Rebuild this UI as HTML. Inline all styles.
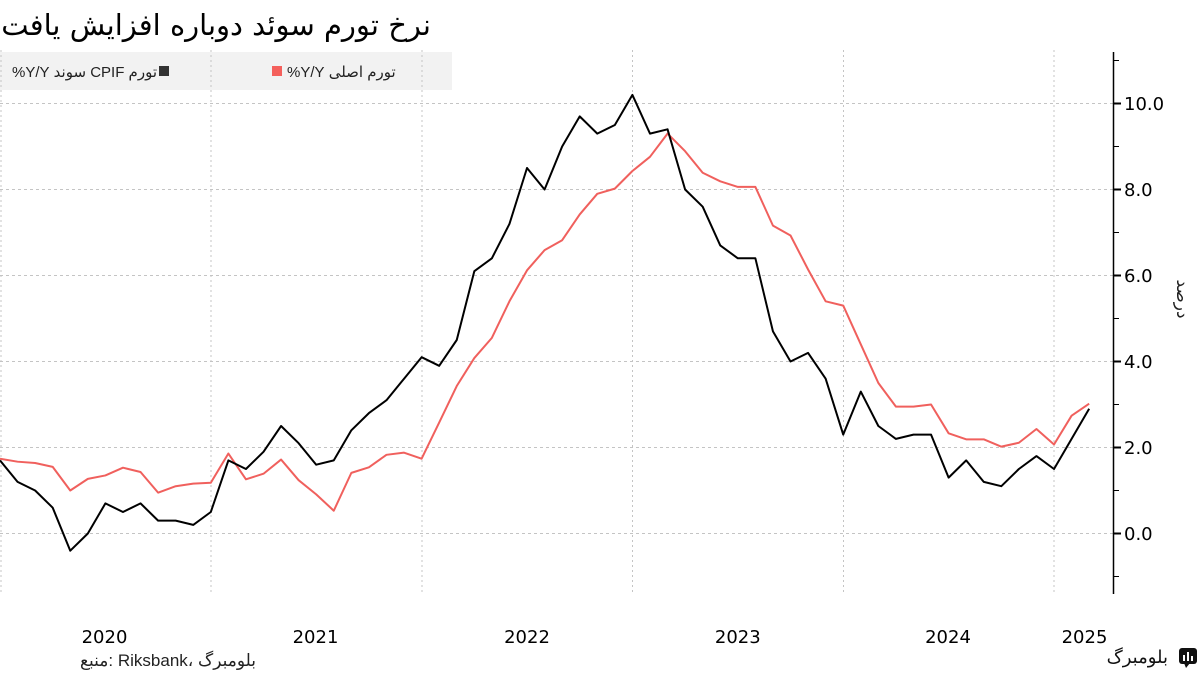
<!DOCTYPE html>
<html>
<head>
<meta charset="utf-8">
<style>
  html,body{margin:0;padding:0;background:#fff;}
  body{width:1200px;height:675px;position:relative;overflow:hidden;font-family:"Liberation Sans","DejaVu Sans",sans-serif;color:#000;}
  svg{position:absolute;left:0;top:0;}
  .t{position:absolute;white-space:nowrap;}
  .title{left:0;width:431px;top:9px;font-size:29px;line-height:33px;text-align:right;direction:rtl;font-family:"DejaVu Sans","Liberation Sans",sans-serif;color:#000;}
  .leg{font-size:15px;line-height:15px;top:65px;color:#222;}
  .sq{position:absolute;width:10px;height:10px;top:66px;}
  .src{left:80px;top:652px;font-size:17px;line-height:18px;color:#222;direction:ltr;}
  .brand{right:32px;top:647px;font-size:18px;line-height:20px;direction:rtl;color:#111;}
</style>
</head>
<body>
<svg width="1200" height="675" viewBox="0 0 1200 675" xmlns="http://www.w3.org/2000/svg">
  <rect x="0" y="52" width="452" height="38" fill="#f2f2f2"/>
  <g stroke="#c4c4c4" stroke-width="1" stroke-dasharray="3,3">
    <line x1="0" y1="533.5" x2="1113" y2="533.5"/>
    <line x1="0" y1="447.5" x2="1113" y2="447.5"/>
    <line x1="0" y1="361.5" x2="1113" y2="361.5"/>
    <line x1="0" y1="275.5" x2="1113" y2="275.5"/>
    <line x1="0" y1="189.5" x2="1113" y2="189.5"/>
    <line x1="0" y1="103.5" x2="1113" y2="103.5"/>
  </g>
  <g stroke="#c4c4c4" stroke-width="1" stroke-dasharray="2,3">
    <line x1="1" y1="50" x2="1" y2="593"/>
    <line x1="211" y1="50" x2="211" y2="593"/>
    <line x1="422" y1="50" x2="422" y2="593"/>
    <line x1="632.5" y1="50" x2="632.5" y2="593"/>
    <line x1="843.5" y1="50" x2="843.5" y2="593"/>
    <line x1="1054" y1="50" x2="1054" y2="593"/>
  </g>

  <g transform="translate(0,533.5) scale(17.567,-43)">
    <polyline fill="none" stroke="#f0605d" stroke-width="2" vector-effect="non-scaling-stroke" stroke-linejoin="round"
      points="0,1.74 1,1.67 2,1.64 3,1.55 4,1.0 5,1.27 6,1.35 7,1.53 8,1.43 9,0.95 10,1.10 11,1.16 12,1.18 13,1.86 14,1.26 15,1.39 16,1.72 17,1.24 18,0.91 19,0.53 20,1.41 21,1.54 22,1.83 23,1.88 24,1.74 25,2.58 26,3.43 27,4.08 28,4.55 29,5.40 30,6.12 31,6.59 32,6.82 33,7.42 34,7.9 35,8.02 36,8.43 37,8.76 38,9.3 39,8.89 40,8.39 41,8.19 42,8.06 43,8.06 44,7.16 45,6.93 46,6.14 47,5.40 48,5.30 49,4.40 50,3.5 51,2.95 52,2.95 53,3.0 54,2.33 55,2.19 56,2.19 57,2.02 58,2.11 59,2.43 60,2.07 61,2.74 62,3.02"/>
    <polyline fill="none" stroke="#000" stroke-width="2" vector-effect="non-scaling-stroke" stroke-linejoin="round"
      points="0,1.7 1,1.2 2,1.0 3,0.6 4,-0.4 5,0.0 6,0.7 7,0.5 8,0.7 9,0.3 10,0.3 11,0.2 12,0.5 13,1.7 14,1.5 15,1.9 16,2.5 17,2.1 18,1.6 19,1.7 20,2.4 21,2.8 22,3.1 23,3.6 24,4.1 25,3.9 26,4.5 27,6.1 28,6.4 29,7.2 30,8.5 31,8.0 32,9.0 33,9.7 34,9.3 35,9.5 36,10.2 37,9.3 38,9.4 39,8.0 40,7.6 41,6.7 42,6.4 43,6.4 44,4.7 45,4.0 46,4.2 47,3.6 48,2.3 49,3.3 50,2.5 51,2.2 52,2.3 53,2.3 54,1.3 55,1.7 56,1.2 57,1.1 58,1.5 59,1.8 60,1.5 61,2.2 62,2.9"/>
  </g>

  <line x1="1113.5" y1="52" x2="1113.5" y2="594" stroke="#000" stroke-width="1.5"/>
  <g stroke="#000" stroke-width="2">
    <line x1="1113" y1="533.5" x2="1121" y2="533.5"/>
    <line x1="1113" y1="447.5" x2="1121" y2="447.5"/>
    <line x1="1113" y1="361.5" x2="1121" y2="361.5"/>
    <line x1="1113" y1="275.5" x2="1121" y2="275.5"/>
    <line x1="1113" y1="189.5" x2="1121" y2="189.5"/>
    <line x1="1113" y1="103.5" x2="1121" y2="103.5"/>
  </g>
  <g stroke="#000" stroke-width="1">
    <line x1="1113" y1="576.5" x2="1119" y2="576.5"/>
    <line x1="1113" y1="490.5" x2="1119" y2="490.5"/>
    <line x1="1113" y1="404.5" x2="1119" y2="404.5"/>
    <line x1="1113" y1="318.5" x2="1119" y2="318.5"/>
    <line x1="1113" y1="232.5" x2="1119" y2="232.5"/>
    <line x1="1113" y1="146.5" x2="1119" y2="146.5"/>
    <line x1="1113" y1="60.5" x2="1119" y2="60.5"/>
  </g>
  <g font-family="DejaVu Sans, Liberation Sans, sans-serif" font-size="18" fill="#000">
    <text x="1124" y="540">0.0</text>
    <text x="1124" y="454">2.0</text>
    <text x="1124" y="368">4.0</text>
    <text x="1124" y="282">6.0</text>
    <text x="1124" y="196">8.0</text>
    <text x="1124" y="110">10.0</text>
  </g>
  <g font-family="DejaVu Sans, Liberation Sans, sans-serif" font-size="18" fill="#000" text-anchor="middle">
    <text x="104.5" y="643">2020</text>
    <text x="315.5" y="643">2021</text>
    <text x="527" y="643">2022</text>
    <text x="737.8" y="643">2023</text>
    <text x="948" y="643">2024</text>
    <text x="1084.5" y="643">2025</text>
  </g>
  <text x="0" y="0" transform="translate(1177,299) rotate(90)" text-anchor="middle" font-family="DejaVu Sans, sans-serif" font-size="17" fill="#222">درصد</text>

  <g>
    <rect x="1179" y="648" width="18" height="16" rx="3" fill="#111"/>
    <polygon points="1184,663 1190,663 1186,668" fill="#111"/>
    <rect x="1183" y="655" width="2" height="6" fill="#fff"/>
    <rect x="1187" y="652" width="2" height="9" fill="#fff"/>
    <rect x="1191" y="656" width="2" height="5" fill="#fff"/>
  </g>
</svg>

<div class="t title">نرخ تورم سوئد دوباره افزایش یافت</div>

<div class="sq" style="left:159px;background:#333;"></div>
<div class="t leg" dir="rtl" style="right:1043px;">تورم CPIF سوند Y/Y%</div>

<div class="sq" style="left:272px;background:#f4605c;"></div>
<div class="t leg" dir="rtl" style="left:287px;">تورم اصلی Y/Y%</div>

<div class="t src">منبع: Riksbank، بلومبرگ</div>
<div class="t brand">بلومبرگ</div>
</body>
</html>
